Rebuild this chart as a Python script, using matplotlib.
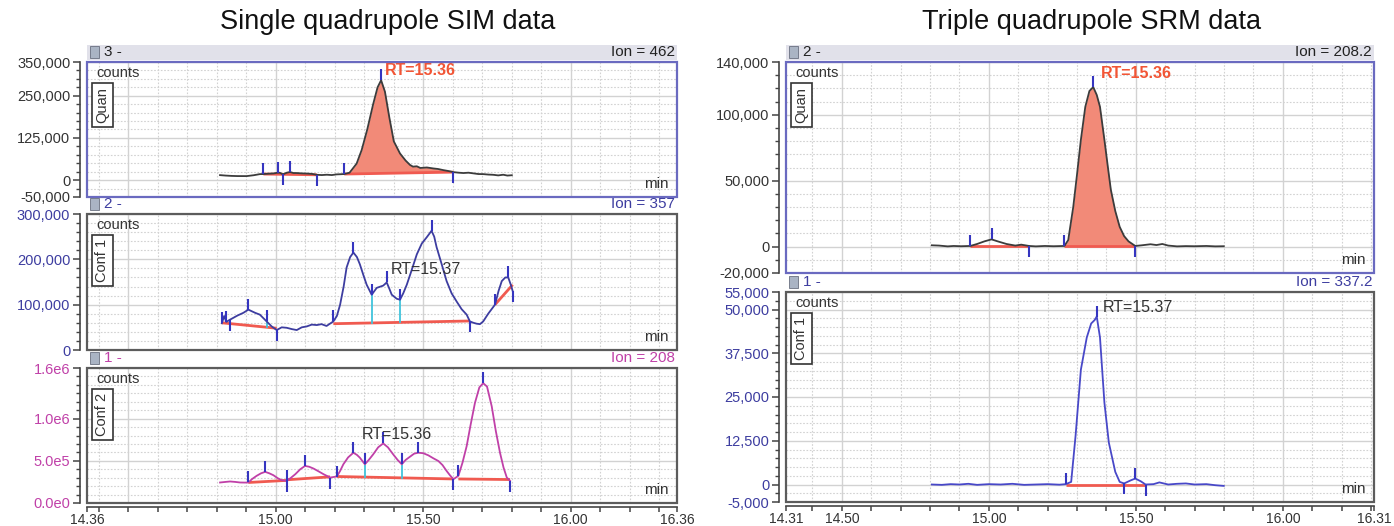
import matplotlib
matplotlib.use('Agg')
import matplotlib.pyplot as plt
import numpy as np
from matplotlib.patches import Rectangle

plt.rcParams['font.family'] = ['Liberation Sans', 'DejaVu Sans']

# ------------------------------------------------------------------ data
# Single quadrupole SIM, Quan (Ion 462)
sq_t = [14.811, 14.83, 14.85, 14.87, 14.901, 14.925, 14.946, 14.958, 14.975, 14.992,
        15.007, 15.014, 15.024, 15.037, 15.048, 15.06, 15.071, 15.088, 15.105, 15.122,
        15.139, 15.156, 15.173, 15.19, 15.206, 15.22, 15.232, 15.25, 15.274, 15.291,
        15.31, 15.33, 15.345, 15.357, 15.37, 15.385, 15.40, 15.421, 15.44, 15.455,
        15.465, 15.478, 15.49, 15.512, 15.534, 15.55, 15.568, 15.585, 15.602, 15.62,
        15.636, 15.653, 15.67, 15.687, 15.703, 15.72, 15.737, 15.754, 15.771, 15.785, 15.80]
sq_v = [14800, 13500, 12500, 12000, 11900, 14500, 17800, 18000, 19000, 19800,
        22000, 21700, 17000, 22000, 24000, 21000, 21000, 20000, 19500, 18500,
        15800, 15000, 16000, 15000, 17000, 17500, 18000, 22000, 49000, 89000,
        150000, 225000, 275000, 296000, 262000, 185000, 115000, 79000, 58000, 45000,
        40000, 41000, 36000, 37500, 34600, 33000, 29600, 27000, 23700, 22000,
        21000, 22000, 20000, 18000, 17800, 16500, 15800, 14000, 16000, 13500, 14500]
sq_mark_t = [14.958, 15.007, 15.024, 15.048, 15.139, 15.232, 15.357, 15.602]
sq_mark_v = [18000, 22000, 17000, 24000, 15800, 18000, 296000, 23700]
sq_mark_d = ['up', 'up', 'down', 'up', 'down', 'up', 'up', 'down']
sq_base = [(14.958, 18000, 15.139, 15800), (15.232, 18000, 15.602, 23700)]
sq_fill = [1]
sq_drop = []

# Single quadrupole SIM, Conf 1 (Ion 357)
sc1_t = [14.817, 14.825, 14.832, 14.845, 14.87, 14.89, 14.907, 14.93, 14.946, 14.969,
         14.986, 15.003, 15.02, 15.037, 15.055, 15.071, 15.088, 15.105, 15.122, 15.139,
         15.155, 15.172, 15.195, 15.207, 15.218, 15.23, 15.240, 15.252, 15.263, 15.275,
         15.285, 15.297, 15.308, 15.325, 15.342, 15.355, 15.364, 15.376, 15.385, 15.393,
         15.41, 15.421, 15.432, 15.444, 15.46, 15.478, 15.495, 15.512, 15.528, 15.537,
         15.545, 15.562, 15.579, 15.596, 15.613, 15.63, 15.647, 15.658, 15.67, 15.681,
         15.692, 15.703, 15.72, 15.743, 15.755, 15.766, 15.778, 15.788, 15.796, 15.803]
sc1_v = [59000, 75000, 62000, 67000, 76000, 82000, 89000, 82000, 78000, 63000,
         52000, 44000, 50000, 49000, 46000, 44000, 50000, 52000, 56000, 55000,
         57000, 53000, 63000, 75000, 100000, 140000, 182000, 205000, 215000, 205000,
         189000, 165000, 144000, 122000, 137000, 140000, 142000, 149000, 135000, 122000,
         113000, 111000, 125000, 144000, 175000, 211000, 235000, 249000, 263000, 250000,
         227000, 190000, 152000, 125000, 107000, 90000, 78000, 63000, 60000, 58000,
         57000, 63000, 80000, 100000, 130000, 152000, 160000, 160000, 145000, 130000]
sc1_mark_t = [14.817, 14.832, 14.845, 14.907, 14.969, 15.003, 15.195, 15.263,
              15.325, 15.376, 15.421, 15.528, 15.658, 15.743, 15.788, 15.803]
sc1_mark_v = [59000, 62000, 67000, 89000, 63000, 44000, 63000, 215000,
              122000, 149000, 111000, 263000, 63000, 100000, 160000, 130000]
sc1_mark_d = ['up', 'up', 'down', 'up', 'up', 'down', 'up', 'up',
              'up', 'up', 'up', 'up', 'down', 'up', 'up', 'down']
sc1_base = [(14.817, 60000, 15.003, 48000), (15.195, 58000, 15.658, 64000),
            (15.743, 100000, 15.803, 144000)]
sc1_fill = []
sc1_drop = [(14.969, 63000, 50000), (15.325, 122000, 60000), (15.421, 111000, 61000)]

# Single quadrupole SIM, Conf 2 (Ion 208)
sc2_t = [14.811, 14.83, 14.845, 14.862, 14.879, 14.895, 14.907, 14.92, 14.935, 14.95,
         14.964, 14.978, 14.992, 15.006, 15.020, 15.037, 15.05, 15.066, 15.083, 15.099,
         15.113, 15.128, 15.145, 15.162, 15.184, 15.207, 15.218, 15.229, 15.245, 15.263,
         15.275, 15.285, 15.302, 15.315, 15.330, 15.347, 15.364, 15.38, 15.398, 15.413,
         15.427, 15.44, 15.455, 15.469, 15.483, 15.50, 15.517, 15.534, 15.551, 15.565,
         15.579, 15.59, 15.602, 15.619, 15.633, 15.647, 15.66, 15.675, 15.69, 15.703,
         15.716, 15.732, 15.746, 15.760, 15.772, 15.783, 15.794]
sc2_v = [243000, 250000, 255000, 250000, 243000, 242000, 243000, 285000, 322000, 352000,
         369000, 352000, 329000, 295000, 270000, 263000, 295000, 341000, 400000, 439000,
         430000, 408000, 375000, 341000, 302000, 314000, 380000, 459000, 540000, 596000,
         570000, 537000, 459000, 510000, 576000, 660000, 706000, 660000, 576000, 510000,
         459000, 510000, 549000, 585000, 596000, 590000, 565000, 530000, 498000, 450000,
         380000, 330000, 282000, 322000, 480000, 674000, 920000, 1185000, 1370000, 1420000,
         1380000, 1145000, 850000, 596000, 420000, 302000, 263000]
sc2_mark_t = [14.907, 14.964, 15.037, 15.037, 15.099, 15.184, 15.207, 15.263,
              15.302, 15.364, 15.427, 15.483, 15.602, 15.619, 15.703, 15.794]
sc2_mark_v = [243000, 369000, 263000, 263000, 439000, 302000, 314000, 596000,
              459000, 706000, 459000, 596000, 282000, 322000, 1420000, 263000]
sc2_mark_d = ['up', 'up', 'down', 'up', 'up', 'down', 'up', 'up',
              'up', 'up', 'up', 'up', 'down', 'up', 'up', 'down']
sc2_base = [(14.907, 243000, 15.037, 268000), (15.037, 275000, 15.184, 310000),
            (15.207, 314000, 15.602, 285000), (15.619, 285000, 15.794, 278000)]
sc2_fill = []
sc2_drop = [(15.302, 459000, 307000), (15.427, 459000, 298000)]

# Triple quadrupole SRM, Quan (Ion 208.2)
tq_t = [14.806, 14.83, 14.86, 14.88, 14.905, 14.937, 14.96, 14.985, 15.009, 15.03,
        15.06, 15.09, 15.11, 15.137, 15.16, 15.19, 15.22, 15.257, 15.27, 15.287,
        15.30, 15.313, 15.328, 15.342, 15.355, 15.367, 15.378, 15.393, 15.405, 15.415,
        15.43, 15.445, 15.46, 15.475, 15.498, 15.52, 15.55, 15.57, 15.59, 15.61,
        15.64, 15.67, 15.70, 15.74, 15.77, 15.799]
tq_v = [1000, 800, 200, 500, 300, 500, 2000, 4000, 5500, 4000,
        2000, 800, 1500, 500, 200, 500, 300, 500, 5000, 30000,
        55000, 81000, 106000, 118000, 121000, 115000, 106000, 81000, 60000, 43000,
        27000, 15000, 8000, 4000, 500, 1000, 1800, 1200, 2000, 800,
        200, 400, 300, 500, 200, 300]
tq_mark_t = [14.937, 15.009, 15.137, 15.257, 15.355, 15.498]
tq_mark_v = [500, 5500, 500, 500, 121000, 500]
tq_mark_d = ['up', 'up', 'down', 'up', 'up', 'down']
tq_base = [(14.937, 500, 15.137, 500), (15.257, 500, 15.498, 500)]
tq_fill = [1]
tq_drop = []

# Triple quadrupole SRM, Conf 1 (Ion 337.2)
tc_t = [14.806, 14.84, 14.87, 14.90, 14.93, 14.96, 15.00, 15.04, 15.08, 15.12,
        15.16, 15.20, 15.24, 15.262, 15.28, 15.295, 15.313, 15.333, 15.348, 15.36,
        15.367, 15.378, 15.393, 15.408, 15.43, 15.445, 15.46, 15.483, 15.498, 15.517,
        15.533, 15.56, 15.58, 15.61, 15.64, 15.67, 15.70, 15.74, 15.77, 15.799]
tc_v = [0, -100, 100, 0, 200, -100, 100, 0, 200, -100,
        0, 100, -50, 100, 750, 14000, 32800, 42000, 46000, 47000,
        48000, 42000, 23400, 12000, 3600, 750, 300, 1200, 1700, 900,
        0, 100, 600, 0, 200, 300, 0, 100, -200, -400]
tc_mark_t = [15.262, 15.367, 15.46, 15.498, 15.533]
tc_mark_v = [100, 48000, 300, 1700, 0]
tc_mark_d = ['up', 'up', 'down', 'up', 'down']
tc_base = [(15.262, 0, 15.533, 0)]
tc_fill = []
tc_drop = []

# axis ticks / labels
sim_xlim = (14.36, 16.36)
srm_xlim = (14.31, 16.31)
sim_xlabels = {14.36: '14.36', 15.0: '15.00', 15.5: '15.50', 16.0: '16.00', 16.36: '16.36'}
srm_xlabels = {14.31: '14.31', 14.5: '14.50', 15.0: '15.00', 15.5: '15.50', 16.0: '16.00', 16.31: '16.31'}

sq_yticks = [-50000, 0, 125000, 250000, 350000]
sq_ylabels = ['-50,000', '0', '125,000', '250,000', '350,000']
sc1_yticks = [0, 100000, 200000, 300000]
sc1_ylabels = ['0', '100,000', '200,000', '300,000']
sc2_yticks = [0, 500000, 1000000, 1600000]
sc2_ylabels = ['0.0e0', '5.0e5', '1.0e6', '1.6e6']
tq_yticks = [-20000, 0, 50000, 100000, 140000]
tq_ylabels = ['-20,000', '0', '50,000', '100,000', '140,000']
tc_yticks = [-5000, 0, 12500, 25000, 37500, 50000, 55000]
tc_ylabels = ['-5,000', '0', '12,500', '25,000', '37,500', '50,000', '55,000']

# ------------------------------------------------------------------ style
W, H = 1394, 526
fig = plt.figure(figsize=(W / 100, H / 100), dpi=100)

BLUE = '#3d3da0'
MAG = '#c040a8'
DARK = '#333333'
RED = '#f05a50'
FILL = '#f28a78'
MARK = '#3535c0'
CYAN = '#40c4dc'
ORANGE = '#f25535'
GRID = '#d2d2d2'


def px_rect(x0, y0, x1, y1):
    return [x0 / W, 1 - y1 / H, (x1 - x0) / W, (y1 - y0) / H]


def panel(rect_px, xlim, ylim, t, v, line_color, yticks, ylabels, yminor_step, tick_color,
          box_color, num, ion, head_color, head_bar, tag, rt, rt_color, rt_bold,
          mark_t, mark_v, mark_d, bases, fills, drops, xlabels=None, minor_x0=14.4):
    ax = fig.add_axes(px_rect(*rect_px))
    ax.set_xlim(*xlim)
    ax.set_ylim(*ylim)
    ax.set_facecolor('white')
    t = np.asarray(t, float)
    v = np.asarray(v, float)

    # grid
    ymin_grid = np.arange(ylim[0], ylim[1] + 1, yminor_step)
    for y in ymin_grid:
        if y not in yticks:
            ax.axhline(y, color=GRID, lw=0.8, ls=(0, (1.5, 1.5)), zorder=0)
    for y in yticks:
        ax.axhline(y, color=GRID, lw=1.0, zorder=0)
    xs = np.round(np.arange(minor_x0, xlim[1], 0.1), 2)
    for x in xs:
        if abs(x * 2 - round(x * 2)) < 1e-6:
            ax.axvline(x, color=GRID, lw=1.0, zorder=0)
        else:
            ax.axvline(x, color=GRID, lw=0.8, ls=(0, (1.5, 1.5)), zorder=0)

    # fills and baselines
    for i, (t0, v0, t1, v1) in enumerate(bases):
        if i in fills:
            m = (t >= t0) & (t <= t1)
            tt = t[m]
            bb = v0 + (v1 - v0) * (tt - t0) / (t1 - t0)
            ax.fill_between(tt, bb, v[m], color=FILL, lw=0, zorder=1)
        ax.plot([t0, t1], [v0, v1], color=RED, lw=2.0, zorder=2, solid_capstyle='butt')
    for (td, vt, vb) in drops:
        ax.plot([td, td], [vb, vt], color=CYAN, lw=1.3, zorder=2)

    ax.plot(t, v, color=line_color, lw=1.3, zorder=3)

    for mt, mv, md in zip(mark_t, mark_v, mark_d):
        ax.plot([mt], [mv], marker=2 if md == 'up' else 3, ms=8, mew=1.5,
                color=MARK, zorder=4, clip_on=False)

    # rt label
    ax.text(rt[1], rt[2], rt[0], color=rt_color, fontsize=11.5,
            fontweight='bold' if rt_bold else 'normal', ha='left', va='center', zorder=5)

    # spines / ticks
    for s in ['top', 'right', 'bottom']:
        ax.spines[s].set_visible(False)
    ax.spines['left'].set_position(('outward', 5))
    ax.spines['left'].set_color('#444444')
    ax.spines['left'].set_linewidth(1.2)
    ax.set_yticks(yticks)
    ax.set_yticklabels(ylabels)
    ax.set_yticks([y for y in ymin_grid if y not in yticks], minor=True)
    ax.tick_params(axis='y', which='major', length=5, width=1.1, color='#444444',
                   labelcolor=tick_color, labelsize=10.5, pad=2)
    ax.tick_params(axis='y', which='minor', length=3, width=1.0, color='#444444')
    if xlabels is None:
        ax.tick_params(axis='x', which='both', bottom=False, labelbottom=False)
    else:
        ax.spines['bottom'].set_visible(True)
        ax.spines['bottom'].set_position(('outward', 3))
        ax.spines['bottom'].set_color('#444444')
        ax.spines['bottom'].set_linewidth(1.2)
        ticks = sorted(set(list(xlabels.keys()) + list(xs)))
        ax.set_xticks(ticks)
        ax.set_xticklabels([xlabels.get(k, '') for k in ticks])
        ax.tick_params(axis='x', which='major', length=3.5, width=1.1, color='#444444',
                       labelcolor=DARK, labelsize=10, pad=0.5)

    # frame
    ax.add_patch(Rectangle((0, 0), 1, 1, transform=ax.transAxes, fill=False,
                           ec=box_color, lw=1.6, clip_on=False, zorder=6))

    # inner labels
    ax.annotate('counts', xy=(0, 1), xycoords='axes fraction', xytext=(7, -3),
                textcoords='offset points', ha='left', va='top', fontsize=10.5, color=DARK)
    ax.annotate(tag, xy=(0, 1), xycoords='axes fraction', xytext=(11, -18),
                textcoords='offset points', ha='center', va='top', fontsize=10.5,
                rotation=90, color=DARK,
                bbox=dict(boxstyle='square,pad=0.25', fc='white', ec='#333333', lw=1.2))
    ax.annotate('min', xy=(1, 0), xycoords='axes fraction', xytext=(-6, 4),
                textcoords='offset points', ha='right', va='bottom', fontsize=11, color=DARK)

    # header row
    x0, y0, x1, y1 = rect_px
    yc = 1 - (y0 - 10) / H
    if head_bar:
        fig.add_artist(Rectangle((x0 / W, 1 - (y0 - 2) / H), (x1 - x0) / W, 15 / H,
                                 transform=fig.transFigure, fc='#e1e1ea', ec='none', zorder=0))
    fig.add_artist(Rectangle(((x0 + 3) / W, 1 - (y0 - 4) / H), 9 / W, 12 / H,
                             transform=fig.transFigure, fc='#aab4c4', ec='#6a7080', lw=0.6))
    fig.text((x0 + 17) / W, yc, f'{num} -', ha='left', va='center', fontsize=11,
             color=head_color)
    fig.text((x1 - 2) / W, yc, f'Ion = {ion}', ha='right', va='center', fontsize=11,
             color=head_color)
    return ax


L1 = (87, 62, 677, 197)
L2 = (87, 214, 677, 350)
L3 = (87, 368, 677, 503)
R1 = (786, 62, 1374, 273)
R2 = (786, 292, 1374, 502)

panel(L1, sim_xlim, (-50000, 350000), sq_t, sq_v, '#3c3c3c', sq_yticks, sq_ylabels, 25000,
      DARK, '#6a6ac0', 3, '462', '#222222', True, 'Quan',
      ('RT=15.36', 15.37, 325000), ORANGE, True,
      sq_mark_t, sq_mark_v, sq_mark_d, sq_base, sq_fill, sq_drop)
panel(L2, sim_xlim, (0, 300000), sc1_t, sc1_v, BLUE, sc1_yticks, sc1_ylabels, 20000,
      BLUE, '#5c5c5c', 2, '357', BLUE, False, 'Conf 1',
      ('RT=15.37', 15.388, 178000), DARK, False,
      sc1_mark_t, sc1_mark_v, sc1_mark_d, sc1_base, sc1_fill, sc1_drop)
panel(L3, sim_xlim, (0, 1600000), sc2_t, sc2_v, MAG, sc2_yticks, sc2_ylabels, 100000,
      MAG, '#5c5c5c', 1, '208', MAG, False, 'Conf 2',
      ('RT=15.36', 15.292, 812000), DARK, False,
      sc2_mark_t, sc2_mark_v, sc2_mark_d, sc2_base, sc2_fill, sc2_drop,
      xlabels=sim_xlabels)
panel(R1, srm_xlim, (-20000, 140000), tq_t, tq_v, '#3c3c3c', tq_yticks, tq_ylabels, 10000,
      DARK, '#6a6ac0', 2, '208.2', '#222222', True, 'Quan',
      ('RT=15.36', 15.381, 131000), ORANGE, True,
      tq_mark_t, tq_mark_v, tq_mark_d, tq_base, tq_fill, tq_drop, minor_x0=14.4)
panel(R2, srm_xlim, (-5000, 55000), tc_t, tc_v, '#4848c8', tc_yticks, tc_ylabels, 2500,
      BLUE, '#5c5c5c', 1, '337.2', BLUE, False, 'Conf 1',
      ('RT=15.37', 15.388, 50500), DARK, False,
      tc_mark_t, tc_mark_v, tc_mark_d, tc_base, tc_fill, tc_drop,
      xlabels=srm_xlabels, minor_x0=14.4)

fig.text(388 / W, 1 - 22 / H, 'Single quadrupole SIM data', ha='center', va='center',
         fontsize=19.5, color='#111111')
fig.text(1092 / W, 1 - 22 / H, 'Triple quadrupole SRM data', ha='center', va='center',
         fontsize=19.5, color='#111111')

fig.savefig('out.png', dpi=100, facecolor='white')
